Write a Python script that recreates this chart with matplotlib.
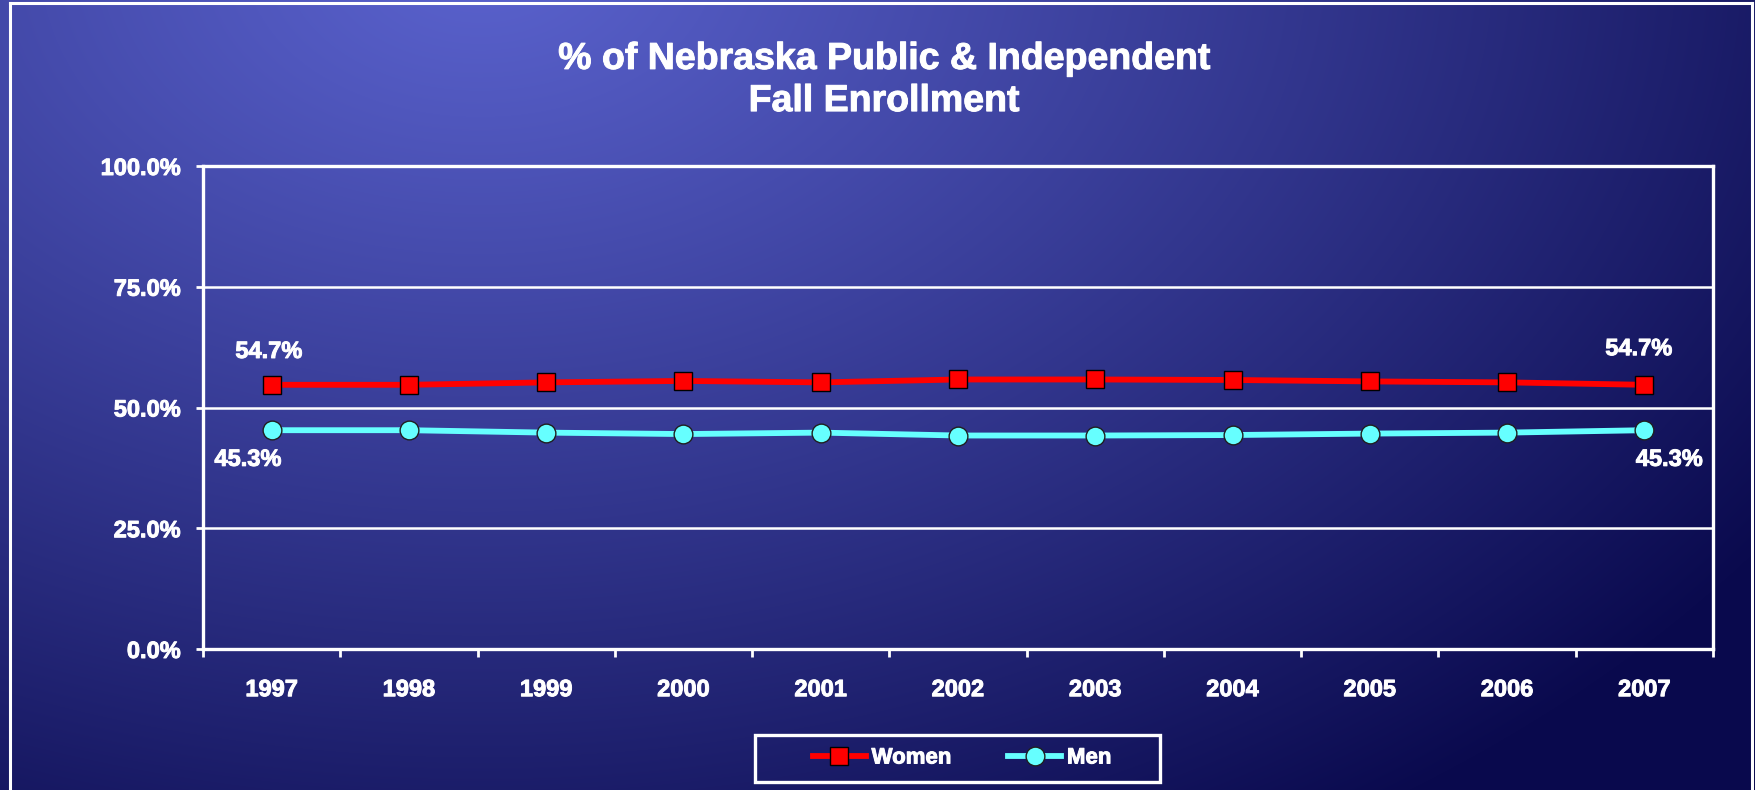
import numpy as np
import matplotlib
matplotlib.use("Agg")
import matplotlib.pyplot as plt
from matplotlib.lines import Line2D
from matplotlib.patches import Rectangle
import matplotlib.patheffects as pe

# ---- data ----
years = ["1997", "1998", "1999", "2000", "2001", "2002", "2003", "2004", "2005", "2006", "2007"]
women = [54.7, 54.7, 55.2, 55.5, 55.2, 55.8, 55.8, 55.7, 55.4, 55.2, 54.7]
men = [45.3, 45.3, 44.8, 44.5, 44.8, 44.2, 44.2, 44.3, 44.6, 44.8, 45.3]
yticks = [0, 25, 50, 75, 100]
title = "% of Nebraska Public & Independent\nFall Enrollment"

FONT = "Liberation Sans"
W, H = 1755, 790
fig = plt.figure(figsize=(W / 100, H / 100), dpi=100)
heavy = [pe.withStroke(linewidth=0.7, foreground="white")]

# ---- background gradient ----
bg = fig.add_axes([0, 0, 1, 1], zorder=-10)
yy, xx = np.mgrid[0:H, 0:W]
d = np.sqrt(((xx - 480) / 1350.0) ** 2 + ((yy + 40) / 900.0) ** 2)
t = np.clip(d, 0, 1.15) / 1.15
t = t ** 1.1
light = np.array([90, 98, 205]) / 255.0
dark = np.array([10, 10, 78]) / 255.0
img = light[None, None, :] * (1 - t[..., None]) + dark[None, None, :] * t[..., None]
bg.imshow(img, extent=[0, 1, 0, 1], aspect="auto", origin="upper")
bg.set_axis_off()

# outer border
bw = 2.2
fig.add_artist(Line2D([10 / W, 10 / W], [0, 1 - 3 / H], color="white", lw=bw, transform=fig.transFigure))
fig.add_artist(Line2D([10 / W, 1752 / W], [1 - 3 / H, 1 - 3 / H], color="white", lw=bw, transform=fig.transFigure))
fig.add_artist(Line2D([1752 / W, 1752 / W], [0, 1 - 3 / H], color="white", lw=bw, transform=fig.transFigure))

# ---- main axes ----
left, right, top, bottom = 203, 1713, 166, 649
ax = fig.add_axes([left / W, 1 - bottom / H, (right - left) / W, (bottom - top) / H])
ax.set_facecolor("none")

x = np.arange(len(years))
ax.plot(x, women, color="#ff0000", lw=4.2, marker="s", ms=12.5,
        markerfacecolor="#ff0000", markeredgecolor="black", markeredgewidth=1.0,
        label="Women", zorder=4)
ax.plot(x, men, color="#66ffff", lw=4.2, marker="o", ms=13.5,
        markerfacecolor="#66ffff", markeredgecolor="#202020", markeredgewidth=1.0,
        label="Men", zorder=4)

ax.set_xlim(-0.5, len(years) - 0.5)
ax.set_ylim(0, 100)
ax.set_yticks(yticks)
ax.set_yticklabels([f"{v:.1f}%" for v in yticks])
ax.set_xticks(x)
ax.set_xticklabels(years)
ax.set_xticks(np.arange(-0.5, len(years), 1.0), minor=True)

tfont = dict(family=FONT, weight="bold", size=17, color="white", path_effects=heavy)
for lab in ax.get_xticklabels() + ax.get_yticklabels():
    lab.set_fontfamily(FONT)
    lab.set_fontweight("bold")
    lab.set_fontsize(17)
    lab.set_color("white")
    lab.set_path_effects(heavy)

ax.tick_params(axis="x", which="major", length=0, pad=21)
ax.tick_params(axis="x", which="minor", length=6, width=2, color="white", direction="out")
ax.tick_params(axis="y", which="major", length=5, width=2, color="white", direction="out", pad=11)

ax.grid(axis="y", color="white", lw=1.8)
ax.set_axisbelow(True)
for s in ax.spines.values():
    s.set_color("white")
    s.set_linewidth(2.4)

# data labels
ax.annotate(f"{women[0]:.1f}%", (x[0], women[0]), xytext=(-2, 24), textcoords="offset points",
            ha="center", va="center", **tfont)
ax.annotate(f"{women[-1]:.1f}%", (x[-1], women[-1]), xytext=(-4, 26), textcoords="offset points",
            ha="center", va="center", **tfont)
ax.annotate(f"{men[0]:.1f}%", (x[0], men[0]), xytext=(-17, -21), textcoords="offset points",
            ha="center", va="center", **tfont)
ax.annotate(f"{men[-1]:.1f}%", (x[-1], men[-1]), xytext=(18, -21), textcoords="offset points",
            ha="center", va="center", **tfont)

# title
fig.text(884 / W, 1 - 80 / H, title, ha="center", va="center", family=FONT, weight="bold",
         size=27, color="white", linespacing=1.22, path_effects=heavy)

# legend (frame drawn separately)
fig.add_artist(Rectangle((755 / W, 1 - 782 / H), (1160 - 755) / W, (782 - 735) / H,
                         transform=fig.transFigure, facecolor="none", edgecolor="white", lw=2.4))
leg = fig.legend(loc="center", bbox_to_anchor=(962 / W, 1 - 758 / H), ncol=2,
                 prop=dict(family=FONT, weight="bold", size=16), frameon=False,
                 handlelength=2.4, columnspacing=2.55, handletextpad=0.25, borderpad=0.2)
for txt in leg.get_texts():
    txt.set_color("white")
    txt.set_path_effects(heavy)

fig.savefig("out.png", dpi=100)
